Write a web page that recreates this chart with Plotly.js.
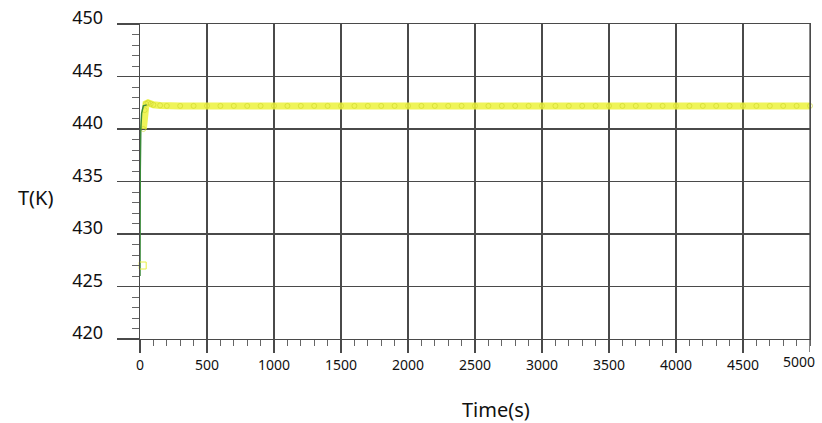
<!DOCTYPE html>
<html>
<head>
<meta charset="utf-8">
<script src="https://cdn.plot.ly/plotly-3.0.1.min.js"></script>
<style>html,body{margin:0;padding:0;background:#fff;}#chart{width:822px;height:423px;}</style>
</head>
<body>
<div id="chart"></div>
<script>
// Start-up marker (initial temperature)
var startTime = [20];
var startTemp = [427.0];

// Main temperature series (yellow)
var time = [25, 35, 45, 60, 80, 100, 150, 200, 300, 400, 500, 600, 700, 800, 900, 1000,
  1100, 1200, 1300, 1400, 1500, 1600, 1700, 1800, 1900, 2000, 2100, 2200, 2300, 2400, 2500,
  2600, 2700, 2800, 2900, 3000, 3100, 3200, 3300, 3400, 3500, 3600, 3700, 3800, 3900, 4000,
  4100, 4200, 4300, 4400, 4500, 4600, 4700, 4800, 4900, 5000];
var temp = [440.0, 441.8, 442.4, 442.5, 442.4, 442.3, 442.25, 442.2, 442.2, 442.2, 442.2, 442.2, 442.2, 442.2, 442.2, 442.2,
  442.2, 442.2, 442.2, 442.2, 442.2, 442.2, 442.2, 442.2, 442.2, 442.2, 442.2, 442.2, 442.2, 442.2, 442.2,
  442.2, 442.2, 442.2, 442.2, 442.2, 442.2, 442.2, 442.2, 442.2, 442.2, 442.2, 442.2, 442.2, 442.2, 442.2,
  442.2, 442.2, 442.2, 442.2, 442.2, 442.2, 442.2, 442.2, 442.2, 442.2];

// Thin green transient line
var greenTime = [0, 0, 2, 6, 12, 25, 50];
var greenTemp = [426.0, 430.0, 436.0, 440.0, 441.5, 442.2, 442.3];

var yTicks = [420, 425, 430, 435, 440, 445, 450];
var xTicks = [0, 500, 1000, 1500, 2000, 2500, 3000, 3500, 4000, 4500, 5000];

var gridCol = '#4a4a4a';
var fontFam = 'Segoe UI, "Noto Sans", "Open Sans", sans-serif';
var lastX = xTicks[xTicks.length - 1];

var traces = [
  {x: time, y: temp, mode: 'lines+markers', type: 'scatter', cliponaxis: false,
   line: {color: 'rgba(236,242,60,0.85)', width: 7},
   marker: {symbol: 'circle-open', size: 5, color: 'rgba(205,215,40,0.6)', line: {width: 1, color: 'rgba(205,215,40,0.6)'}}},
  {x: greenTime, y: greenTemp, mode: 'lines', type: 'scatter', cliponaxis: false,
   line: {color: '#3a8a3a', width: 1.5}},
  {x: startTime, y: startTemp, mode: 'markers', type: 'scatter', cliponaxis: false,
   marker: {symbol: 'square-open', size: 7, color: '#e8f040', line: {width: 1, color: '#e8f040'}}}
];

var layout = {
  width: 822, height: 423,
  margin: {l: 140, r: 12, t: 24, b: 84},
  paper_bgcolor: '#ffffff', plot_bgcolor: '#ffffff',
  showlegend: false,
  font: {family: fontFam, color: '#111'},
  xaxis: {
    range: [0, 5000], tickvals: xTicks.slice(0, -1), ticktext: xTicks.slice(0, -1).map(String),
    showgrid: true, gridcolor: gridCol, gridwidth: 1.3,
    zeroline: false, showline: true, linecolor: gridCol, linewidth: 1.3, mirror: true,
    ticks: 'outside', ticklen: 13, tickcolor: gridCol, tickwidth: 1.3,
    tickfont: {size: 14, family: fontFam, color: '#111'},
    minor: {dtick: 100, tick0: 0, ticks: 'outside', ticklen: 6, tickcolor: '#666', tickwidth: 1, showgrid: false},
    automargin: false, fixedrange: true
  },
  yaxis: {
    range: [420, 450], tickvals: yTicks, ticktext: yTicks.map(String),
    showgrid: true, gridcolor: gridCol, gridwidth: 1.3,
    zeroline: false, showline: true, linecolor: gridCol, linewidth: 1.3, mirror: true,
    ticks: 'outside', ticklen: 22, tickcolor: gridCol, tickwidth: 1.3,
    ticklabelstandoff: 10, ticklabelshift: -6,
    tickfont: {size: 18, family: fontFam, color: '#111'},
    minor: {dtick: 1, tick0: 420, ticks: 'outside', ticklen: 7, tickcolor: '#666', tickwidth: 1, showgrid: false},
    automargin: false, fixedrange: true
  },
  shapes: [
    {type: 'line', xref: 'x', yref: 'paper', x0: lastX, x1: lastX, y0: 0, y1: 1, line: {color: gridCol, width: 1.3}},
    {type: 'line', xref: 'x', yref: 'paper', x0: lastX, x1: lastX, y0: 0, y1: -0.041, line: {color: gridCol, width: 1.3}}
  ],
  annotations: [
    {text: String(lastX), xref: 'x', yref: 'paper', x: lastX, y: -0.073, xshift: 7,
     xanchor: 'right', yanchor: 'middle', showarrow: false, font: {size: 14, family: fontFam, color: '#111'}},
    {text: 'T(K)', xref: 'paper', yref: 'paper', x: -0.155, y: 0.45, xanchor: 'center', yanchor: 'middle',
     showarrow: false, font: {size: 20, family: fontFam, color: '#111'}},
    {text: 'Time(s)', xref: 'paper', yref: 'paper', x: 0.531, y: -0.225, xanchor: 'center', yanchor: 'middle',
     showarrow: false, font: {size: 20, family: fontFam, color: '#111'}}
  ]
};

Plotly.newPlot('chart', traces, layout, {staticPlot: true, displayModeBar: false});
</script>
</body>
</html>
